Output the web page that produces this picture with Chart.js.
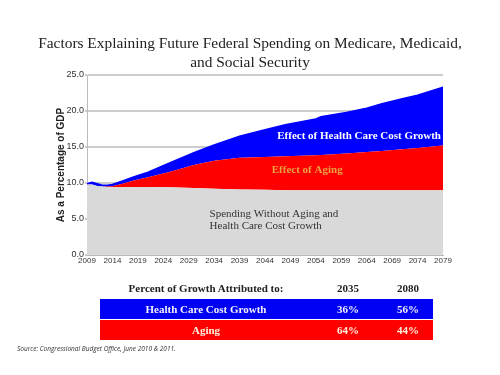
<!DOCTYPE html>
<html>
<head>
<meta charset="utf-8">
<script src="https://cdn.jsdelivr.net/npm/chart.js@4/dist/chart.umd.min.js"></script>
<style>
  html, body { margin:0; padding:0; background:#fff; }
  #wrap { position:relative; width:500px; height:375px; overflow:hidden; }
  #c { position:absolute; left:0; top:0; }
  .t { position:absolute; white-space:nowrap; }
  #title { left:0; width:500px; top:33px; text-align:center; font-family:'Liberation Serif','Times New Roman',serif; font-size:15.4px; line-height:19px; color:#222; }
  .hdr { font-family:'Liberation Serif',serif; font-weight:bold; font-size:11px; color:#222; transform:translate(-50%,-50%); }
  .row { position:absolute; left:100px; width:333px; height:20px; }
  .cell { font-family:'Liberation Serif',serif; font-weight:bold; font-size:11px; transform:translate(-50%,-50%); }
  #src { left:17px; top:344px; font-family:'Open Sans','DejaVu Sans',sans-serif; font-style:italic; font-size:6.5px; color:#333; }
</style>
</head>
<body>
<div id="wrap">
  <canvas id="c" width="500" height="375"></canvas>
  <div id="title" class="t">Factors Explaining Future Federal Spending on Medicare, Medicaid,<br>and Social Security</div>
  <div id="tbl"></div>
  <div id="src" class="t">Source: Congressional Budget Office, June 2010 &amp; 2011.</div>
</div>
<script>
// ---- data (percent of GDP) ----
const years      = [2009, 2010, 2011, 2012, 2013, 2014, 2016, 2018, 2021, 2025, 2030, 2034, 2039, 2044, 2048, 2054, 2055, 2060, 2064, 2067, 2071, 2074, 2079];
const baseline   = [9.8, 9.8, 9.6, 9.5, 9.45, 9.4, 9.4, 9.45, 9.45, 9.4, 9.3, 9.2, 9.1, 9.05, 9.0, 9.0, 9.0, 9.0, 9.0, 9.0, 9.0, 9.0, 9.0];
const withAging  = [9.8, 9.8, 9.6, 9.5, 9.5, 9.55, 9.9, 10.3, 10.8, 11.5, 12.5, 13.1, 13.5, 13.6, 13.7, 13.85, 13.9, 14.1, 14.3, 14.45, 14.7, 14.85, 15.2];
const totalSpend = [9.9, 10.1, 9.9, 9.7, 9.7, 9.8, 10.3, 10.8, 11.5, 12.7, 14.2, 15.3, 16.5, 17.4, 18.1, 18.9, 19.2, 19.8, 20.4, 21.0, 21.7, 22.2, 23.3];
const tickYears  = [2009, 2014, 2019, 2024, 2029, 2034, 2039, 2044, 2049, 2054, 2059, 2064, 2069, 2074, 2079];
const seriesNames = ['Spending Without Aging and Health Care Cost Growth', 'Effect of Aging', 'Effect of Health Care Cost Growth'];
// table
const tableHeader = ['Percent of Growth Attributed to:', '2035', '2080'];
const tableRows   = ['Health Care Cost Growth', 'Aging'];
const share2035   = ['36%', '64%'];
const share2080   = ['56%', '44%'];

const pts = arr => years.map((y, i) => ({x: y, y: arr[i]}));

// ---- table (HTML) ----
(function(){
  const tbl = document.getElementById('tbl');
  const colX = [206, 348, 408];
  tableHeader.forEach((h, i) => {
    const d = document.createElement('div');
    d.className = 't hdr'; d.textContent = h;
    d.style.left = colX[i] + 'px'; d.style.top = '288px';
    tbl.appendChild(d);
  });
  const bg = ['#0000f5', '#ff0000'];
  const fg = ['#f4f0ff', '#fff0e0'];
  const tops = [299, 320];
  tableRows.forEach((r, i) => {
    const row = document.createElement('div');
    row.className = 'row'; row.style.top = tops[i] + 'px'; row.style.background = bg[i];
    tbl.appendChild(row);
    [r, share2035[i], share2080[i]].forEach((txt, j) => {
      const d = document.createElement('div');
      d.className = 't cell'; d.textContent = txt; d.style.color = fg[i];
      d.style.left = colX[j] + 'px'; d.style.top = (tops[i] + 10) + 'px';
      tbl.appendChild(d);
    });
  });
})();

// ---- in-plot labels ----
const labelsPlugin = {
  id: 'areaLabels',
  afterDatasetsDraw(chart) {
    const {ctx, scales: {x, y}} = chart;
    ctx.save();
    ctx.textBaseline = 'middle';
    ctx.textAlign = 'center';
    ctx.font = "bold 11px 'Liberation Serif', serif";
    ctx.fillStyle = '#ffffff';
    ctx.fillText('Effect of Health Care Cost Growth', x.getPixelForValue(2062.5), y.getPixelForValue(16.5));
    ctx.fillStyle = '#e8a040';
    ctx.fillText('Effect of Aging', x.getPixelForValue(2052.3), y.getPixelForValue(11.85));
    ctx.textAlign = 'left';
    ctx.font = "11px 'Liberation Serif', serif";
    ctx.fillStyle = '#333333';
    ctx.fillText('Spending Without Aging and', x.getPixelForValue(2033.1), y.getPixelForValue(5.7));
    ctx.fillText('Health Care Cost Growth', x.getPixelForValue(2033.1), y.getPixelForValue(4.0));
    ctx.restore();
  }
};

new Chart(document.getElementById('c'), {
  type: 'line',
  data: {
    datasets: [
      { label: seriesNames[0], data: pts(baseline), fill: 'origin', backgroundColor: '#d9d9d9', borderColor: '#d9d9d9', borderWidth: 0, pointRadius: 0, tension: 0 },
      { label: seriesNames[1], data: pts(withAging), fill: '-1', backgroundColor: '#ff0000', borderColor: '#ff0000', borderWidth: 0, pointRadius: 0, tension: 0 },
      { label: seriesNames[2], data: pts(totalSpend), fill: '-1', backgroundColor: '#0000ff', borderColor: '#0000ff', borderWidth: 1.5, pointRadius: 0, tension: 0 }
    ]
  },
  options: {
    responsive: false,
    animation: false,
    events: [],
    layout: { padding: { left: 55, right: 57, top: 75, bottom: 106 } },
    plugins: { legend: { display: false }, tooltip: { enabled: false }, title: { display: false } },
    scales: {
      x: {
        type: 'linear', min: 2009, max: 2079,
        afterBuildTicks: s => { s.ticks = tickYears.map(v => ({value: v})); },
        afterFit: s => { s.height = 14; },
        grid: { display: false, drawTicks: false },
        border: { color: '#bbbbbb', width: 1 },
        ticks: { autoSkip: false, maxRotation: 0, padding: 1, color: '#333', font: { family: "'Liberation Sans', Arial, sans-serif", size: 8 }, callback: v => String(v) }
      },
      y: {
        min: 0, max: 25,
        afterFit: s => { s.width = 32; },
        grid: { color: '#cccccc', lineWidth: 2, drawTicks: true, tickLength: 2 },
        border: { color: '#bbbbbb', width: 1 },
        ticks: { stepSize: 5, padding: 1, color: '#333', font: { family: "'Liberation Sans', Arial, sans-serif", size: 9 }, callback: v => v.toFixed(1) },
        title: { display: true, text: 'As a Percentage of GDP', color: '#222', padding: { top: 0, bottom: 0 }, font: { family: "'Liberation Sans', Arial, sans-serif", size: 10, weight: 'bold' } }
      }
    }
  },
  plugins: [labelsPlugin]
});
</script>
</body>
</html>
